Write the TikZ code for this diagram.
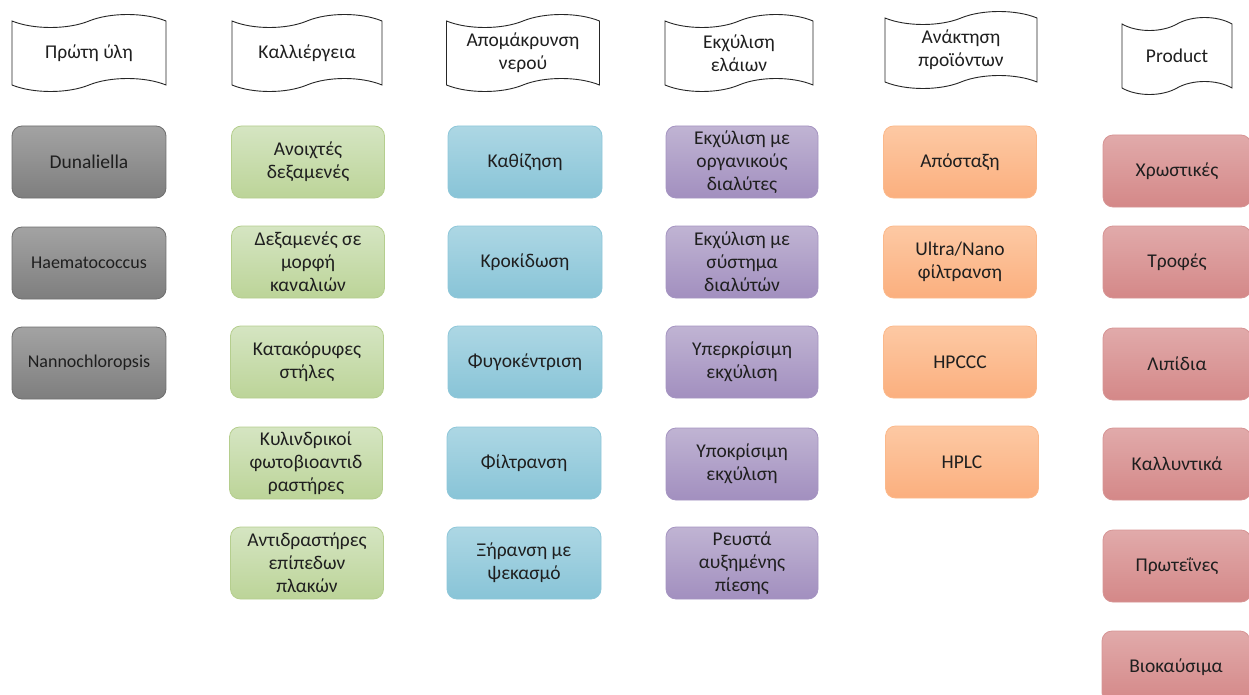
\documentclass[tikz,border=0pt]{standalone}
\usepackage{fontspec}
\setmainfont{Carlito}
\usetikzlibrary{shapes.symbols}

\definecolor{txt}{HTML}{1F1F1F}
\definecolor{grT}{HTML}{A3A3A3}\definecolor{grB}{HTML}{7E7E7E}\definecolor{grD}{HTML}{6E6E6E}
\definecolor{gnT}{HTML}{D5E5C2}\definecolor{gnB}{HTML}{BCD498}\definecolor{gnD}{HTML}{B5CE8E}
\definecolor{blT}{HTML}{ADD7E4}\definecolor{blB}{HTML}{88C4D7}\definecolor{blD}{HTML}{8EC7D9}
\definecolor{puT}{HTML}{C0B4D3}\definecolor{puB}{HTML}{A28FBF}\definecolor{puD}{HTML}{A594C1}
\definecolor{orT}{HTML}{FDC9A4}\definecolor{orB}{HTML}{FBAF7E}\definecolor{orD}{HTML}{FBB98B}
\definecolor{rdT}{HTML}{E1AAAA}\definecolor{rdB}{HTML}{D48888}\definecolor{rdD}{HTML}{D69494}

\newcommand{\mainsize}{\fontsize{19.5}{23}\selectfont}
\newcommand{\smallsize}{\fontsize{18}{21}\selectfont}

\tikzset{
  banner/.style={shape=tape, draw=black!85, line width=0.9pt, fill=white,
    tape bend top=in and out, tape bend bottom=in and out, tape bend height=13pt,
    minimum width=#1, minimum height=77pt, inner sep=0pt, align=center,
    text=txt, font=\mainsize},
  box/.style={rectangle, rounded corners=10pt, minimum width=#1, minimum height=72pt,
    inner sep=0pt, align=center, text=txt, line width=0.8pt, font=\mainsize},
  greybox/.style={box=154pt, draw=grD, top color=grT, bottom color=grB},
  greenbox/.style={box=153pt, draw=gnD, top color=gnT, bottom color=gnB},
  bluebox/.style={box=154pt, draw=blD, top color=blT, bottom color=blB},
  purplebox/.style={box=152pt, draw=puD, top color=puT, bottom color=puB},
  orangebox/.style={box=153pt, draw=orD, top color=orT, bottom color=orB},
  redbox/.style={box=148pt, draw=rdD, top color=rdT, bottom color=rdB},
}

\begin{document}
\begin{tikzpicture}[x=1pt,y=-1pt]
\useasboundingbox (0,0) rectangle (1249,695);
\clip (0,0) rectangle (1249,695);

% stage headers
\node[banner=154pt] (h1) at (89,53)   {Πρώτη ύλη};
\node[banner=150pt] (h2) at (307,53)  {Καλλιέργεια};
\node[banner=153pt] (h3) at (523,53)  {Απομάκρυνση\\νερού};
\node[banner=148pt] (h4) at (739,53)  {Εκχύλιση\\ελάιων};
\node[banner=152pt] (h5) at (961,50)  {Ανάκτηση\\προϊόντων};
\node[banner=110pt] (h6) at (1177,56) {Product};

% raw material
\node[greybox] (a1) at (89,162) {Dunaliella};
\node[greybox, font=\smallsize] (a2) at (89,263) {Haematococcus};
\node[greybox, font=\smallsize] (a3) at (89,363) {Nannochloropsis};

% cultivation
\node[greenbox] (b1) at (308,162) {Ανοιχτές\\δεξαμενές};
\node[greenbox] (b2) at (308,262) {Δεξαμενές σε\\μορφή\\καναλιών};
\node[greenbox] (b3) at (307,362) {Κατακόρυφες\\στήλες};
\node[greenbox] (b4) at (306,463) {Κυλινδρικοί\\φωτοβιοαντιδ\\ραστήρες};
\node[greenbox] (b5) at (307,563) {Αντιδραστήρες\\επίπεδων\\πλακών};

% water removal
\node[bluebox] (c1) at (525,162) {Καθίζηση};
\node[bluebox] (c2) at (525,262) {Κροκίδωση};
\node[bluebox] (c3) at (525,362) {Φυγοκέντριση};
\node[bluebox] (c4) at (524,463) {Φίλτρανση};
\node[bluebox] (c5) at (524,563) {Ξήρανση με\\ψεκασμό};

% oil extraction
\node[purplebox] (d1) at (742,162) {Εκχύλιση με\\οργανικούς\\διαλύτες};
\node[purplebox] (d2) at (742,262) {Εκχύλιση με\\σύστημα\\διαλύτών};
\node[purplebox] (d3) at (742,362) {Υπερκρίσιμη\\εκχύλιση};
\node[purplebox] (d4) at (742,464) {Υποκρίσιμη\\εκχύλιση};
\node[purplebox] (d5) at (742,563) {Ρευστά\\αυξημένης\\πίεσης};

% product recovery
\node[orangebox] (e1) at (960,162) {Απόσταξη};
\node[orangebox] (e2) at (960,262) {Ultra/Nano\\φίλτρανση};
\node[orangebox] (e3) at (960,362) {HPCCC};
\node[orangebox] (e4) at (962,462) {HPLC};

% products
\node[redbox] (f1) at (1177,171) {Χρωστικές};
\node[redbox] (f2) at (1177,262) {Τροφές};
\node[redbox] (f3) at (1177,364) {Λιπίδια};
\node[redbox] (f4) at (1177,464) {Καλλυντικά};
\node[redbox] (f5) at (1177,566) {Πρωτεΐνες};
\node[redbox] (f6) at (1176,667) {Βιοκαύσιμα};
\end{tikzpicture}
\end{document}
